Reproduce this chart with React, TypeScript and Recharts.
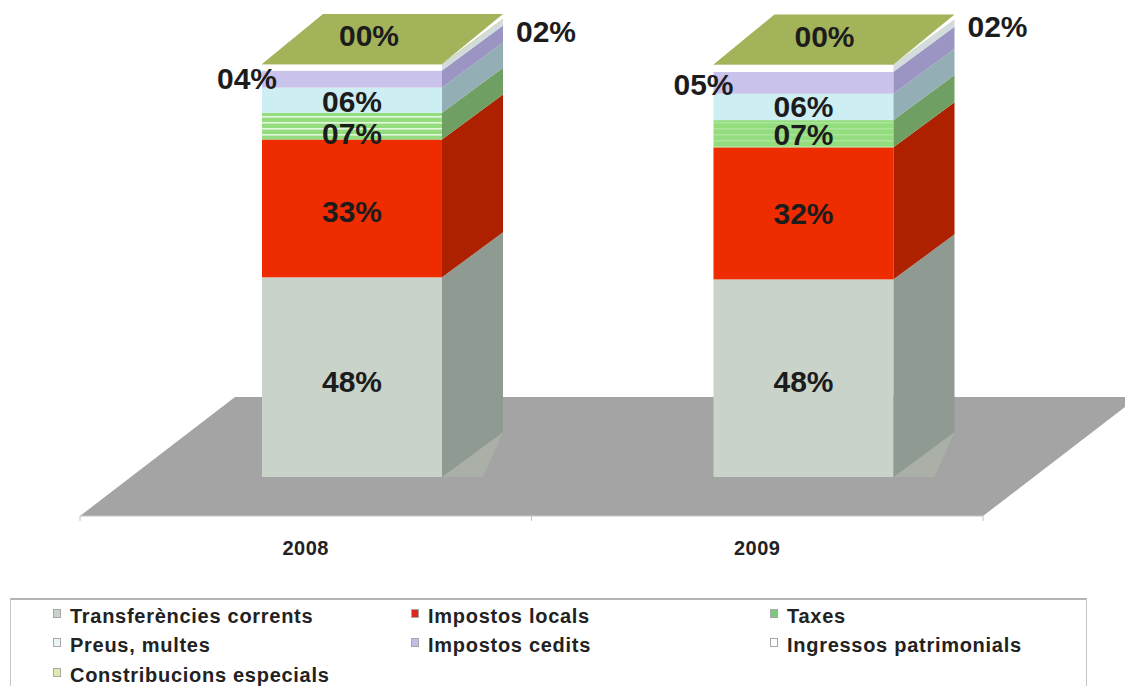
import { Bar, BarChart, LabelList, Legend, XAxis, YAxis } from 'recharts';

const years = ['2008', '2009'];
const transferencies = [48.4, 47.9];
const impostosLocals = [33.4, 32.0];
const taxes = [6.5, 6.6];
const preusMultes = [6.1, 6.4];
const impostosCedits = [4.1, 5.3];
const ingressosPatrimonials = [1.5, 1.7];
const contribucions = [0.1, 0.1];

const seriesNames = [
  'Transferències corrents',
  'Impostos locals',
  'Taxes',
  'Preus, multes',
  'Impostos cedits',
  'Ingressos patrimonials',
  'Constribucions especials',
];

const chartData = years.map((year, i) => ({
  year,
  s0: transferencies[i],
  s1: impostosLocals[i],
  s2: taxes[i],
  s3: preusMultes[i],
  s4: impostosCedits[i],
  s5: ingressosPatrimonials[i],
  s6: contribucions[i],
}));

const WIDTH = 1125;
const HEIGHT = 686;
const AXIS_HEIGHT = 30;
const MARGIN = { top: 103, right: 142, bottom: 140, left: 80 };
const AXIS_Y = HEIGHT - MARGIN.bottom - AXIS_HEIGHT;
const AXIS_RIGHT = WIDTH - MARGIN.right;

// fake 3d: the bars stand on the floor, away from the axis line
const LIFT_X = 46;
const LIFT_Y = -39;
const DEPTH_X = 61;
const SIDE_DEPTH_Y = -45;
const TOP_DEPTH_Y = -50;
const FLOOR_X = 155;
const FLOOR_Y = -119;

const faces = [
  { front: '#c9d3c9', side: '#8f9a92', marker: '#c9d3c9' },
  { front: '#ee2c00', side: '#ad2000', marker: '#e0281a' },
  { front: '#93dd7e', side: '#6f9f62', marker: '#7ccb7c' },
  { front: '#cdeef3', side: '#93aeb4', marker: '#e8f6f8' },
  { front: '#c9c2ea', side: '#9a95c2', marker: '#c4bde6' },
  { front: '#ffffff', side: '#d3dcdc', marker: '#ffffff' },
  { front: '#a3b35a', side: '#a3b35a', marker: '#e4e8b0' },
];

const stripeOpacity = [0.75, 0.2];

const Floor = () => (
  <g>
    <defs>
      <pattern id='taxStripes' width='6' height='6' patternUnits='userSpaceOnUse'>
        <rect y='2' width='6' height='1.6' fill='#ffffff' />
      </pattern>
    </defs>
    <polygon
      points={`${MARGIN.left},${AXIS_Y} ${AXIS_RIGHT},${AXIS_Y} ${AXIS_RIGHT + FLOOR_X},${AXIS_Y + FLOOR_Y} ${MARGIN.left + FLOOR_X},${AXIS_Y + FLOOR_Y}`}
      fill='#a4a4a4'
    />
    {[MARGIN.left, (MARGIN.left + AXIS_RIGHT) / 2, AXIS_RIGHT].map((x) => (
      <line key={x} x1={x} x2={x} y1={AXIS_Y} y2={AXIS_Y + 5} stroke='#c4c4c4' />
    ))}
  </g>
);

const makeShape = (index: number) => (props: any) => {
  const { front, side } = faces[index];
  const x = props.x + LIFT_X;
  const y = props.y + LIFT_Y;
  const { width, height } = props;
  const right = x + width;
  const bottom = y + height;
  return (
    <g>
      {index === 0 && (
        <polygon
          points={`${right},${bottom} ${right + DEPTH_X},${bottom + SIDE_DEPTH_Y} ${right + 41},${bottom}`}
          fill='#aab0a7'
        />
      )}
      <rect x={x} y={y} width={width} height={height} fill={front} />
      {index === 2 && (
        <rect
          x={x}
          y={y}
          width={width}
          height={height}
          fill='url(#taxStripes)'
          opacity={stripeOpacity[props.index]}
        />
      )}
      <polygon
        points={`${right},${y} ${right + DEPTH_X},${y + SIDE_DEPTH_Y} ${right + DEPTH_X},${bottom + SIDE_DEPTH_Y} ${right},${bottom}`}
        fill={side}
      />
      {index === 6 && (
        <polygon
          points={`${x},${y} ${right},${y} ${right + DEPTH_X},${y + TOP_DEPTH_Y} ${x + DEPTH_X},${y + TOP_DEPTH_Y}`}
          fill={front}
        />
      )}
    </g>
  );
};

const formatPct = (value: number) =>
  `${String(Math.round(value)).padStart(2, '0')}%`;

// where each series puts its label per year, measured from the segment centre
const labelShift = [
  { x: [0, 0], y: [7, 6] },
  { x: [0, 0], y: [6, 3] },
  { x: [0, 0], y: [10, 3] },
  { x: [0, 0], y: [4, 2] },
  { x: [-105, -100], y: [2, 4] },
  { x: [194, 194], y: [-33, -39] },
  { x: [17, 21], y: [-26, -26] },
];

const makeLabel = (series: number) => (props: any) => {
  const { x, y, width, height, value, index } = props;
  return (
    <text
      x={x + LIFT_X + width / 2 + labelShift[series].x[index]}
      y={y + LIFT_Y + height / 2 + labelShift[series].y[index]}
      textAnchor='middle'
      dominantBaseline='middle'
      fontFamily='Liberation Sans'
      fontWeight={700}
      fontSize={30}
      fill='#1c1c1c'
    >
      {formatPct(value)}
    </text>
  );
};

const LegendBox = () => (
  <div
    style={{
      width: 1077,
      height: 100,
      boxSizing: 'border-box',
      border: '1px solid #c6c6c6',
      borderTop: '2px solid #b4b4b4',
      display: 'grid',
      gridTemplateColumns: '358px 359px 1fr',
      gridAutoRows: '29.5px',
      paddingLeft: 42,
      paddingTop: 1,
      fontFamily: 'Liberation Sans',
      fontWeight: 700,
      fontSize: 20,
      lineHeight: 1,
      letterSpacing: 0.72,
      color: '#222',
    }}
  >
    {seriesNames.map((name, i) => (
      <div key={name} style={{ display: 'flex', alignItems: 'center', whiteSpace: 'nowrap' }}>
        <span
          style={{
            width: 8,
            height: 9,
            marginRight: 9,
            marginTop: -5,
            boxSizing: 'border-box',
            border: '1px solid #a8a8a8',
            background: faces[i].marker,
          }}
        />
        {name}
      </div>
    ))}
  </div>
);

export default function App() {
  return (
    <div style={{ position: 'absolute', left: 0, top: 0, width: WIDTH, height: HEIGHT, overflow: 'hidden', background: '#fff' }}>
      <BarChart width={WIDTH} height={HEIGHT} data={chartData} margin={MARGIN} barCategoryGap={0}>
        <Floor />
        <XAxis
          dataKey='year'
          height={AXIS_HEIGHT}
          axisLine={{ stroke: '#c4c4c4' }}
          tickLine={false}
          tickMargin={19}
          tick={{ fontFamily: 'Liberation Sans', fontWeight: 700, fontSize: 20, letterSpacing: 0.5, fill: '#222' }}
        />
        <YAxis hide domain={[0, 100]} />
        <Legend
          layout='horizontal'
          verticalAlign='middle'
          align='center'
          content={<LegendBox />}
          wrapperStyle={{ position: 'absolute', left: 10, top: 598, width: 1077, height: 100, margin: 0 }}
        />
        {seriesNames.map((name, i) => (
          <Bar
            key={name}
            dataKey={`s${i}`}
            name={name}
            stackId='total'
            barSize={180}
            isAnimationActive={false}
            shape={makeShape(i)}
          >
            <LabelList dataKey={`s${i}`} content={makeLabel(i)} />
          </Bar>
        ))}
      </BarChart>
    </div>
  );
}
